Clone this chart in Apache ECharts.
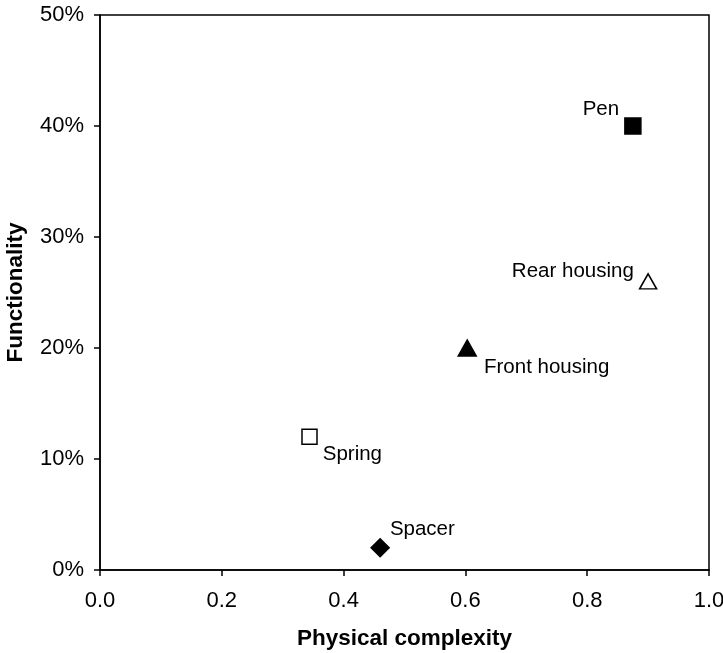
<!DOCTYPE html>
<html>
<head>
<meta charset="utf-8">
<script src="https://cdn.jsdelivr.net/npm/echarts@6/dist/echarts.min.js"></script>
<style>
  html, body { margin: 0; padding: 0; background: #fff; }
  #chart { width: 723px; height: 653px; }
</style>
</head>
<body>
<div id="chart"></div>
<script>
// Parts of the pen assembly
const parts = ['Pen', 'Rear housing', 'Front housing', 'Spring', 'Spacer'];
// Physical complexity (0..1)
const complexity = [0.875, 0.90, 0.603, 0.344, 0.46];
// Functionality (%)
const functionality = [40, 26, 20, 12, 2];

// Marker look for each part
const markerStyles = [
  { symbol: 'rect', size: 16, fill: '#000' },
  { symbol: 'triangle', size: [17, 15], fill: '#fff' },
  { symbol: 'triangle', size: [18, 16], fill: '#000' },
  { symbol: 'rect', size: 15, fill: '#fff' },
  { symbol: 'diamond', size: [18, 18], fill: '#000' }
];
// Label placement around each marker
const labelPlacement = [
  { position: 'left', offset: [0, -17] },
  { position: 'left', offset: [0, -10] },
  { position: 'right', offset: [2, 19] },
  { position: 'right', offset: [0, 18] },
  { position: 'right', offset: [-5, -18] }
];

const points = parts.map((name, i) => ({
  name: name,
  value: [complexity[i], functionality[i]],
  symbol: markerStyles[i].symbol,
  symbolSize: markerStyles[i].size,
  itemStyle: {
    color: markerStyles[i].fill,
    borderColor: '#000',
    borderWidth: 1.5,
    opacity: 1
  },
  label: {
    show: true,
    formatter: name,
    position: labelPlacement[i].position,
    offset: labelPlacement[i].offset
  }
}));

const font = 'Arial, "Liberation Sans", Helvetica, sans-serif';

const chart = echarts.init(document.getElementById('chart'), null, { renderer: 'canvas' });
chart.setOption({
  animation: false,
  backgroundColor: '#fff',
  grid: {
    left: 100, right: 14, top: 15, bottom: 83,
    outerBoundsMode: 'none',
    containLabel: false,
    show: true, borderColor: '#000', borderWidth: 1.5
  },
  xAxis: {
    type: 'value', min: 0, max: 1, interval: 0.2,
    name: 'Physical complexity',
    nameLocation: 'middle', nameGap: 57,
    nameTextStyle: { fontFamily: font, fontWeight: 'bold', fontSize: 22.5, color: '#000' },
    axisLine: { lineStyle: { color: '#000', width: 1.5 } },
    axisTick: { show: true, inside: false, length: 6, lineStyle: { color: '#000', width: 1.5 } },
    axisLabel: {
      fontFamily: font, fontSize: 22, color: '#000', margin: 20,
      formatter: v => v.toFixed(1)
    },
    splitLine: { show: false }
  },
  yAxis: {
    type: 'value', min: 0, max: 50, interval: 10,
    name: 'Functionality',
    nameLocation: 'middle', nameGap: 73,
    nameTextStyle: { fontFamily: font, fontWeight: 'bold', fontSize: 22.5, color: '#000' },
    axisLine: { show: true, lineStyle: { color: '#000', width: 1.5 } },
    axisTick: { show: true, inside: false, length: 6, lineStyle: { color: '#000', width: 1.5 } },
    axisLabel: {
      fontFamily: font, fontSize: 22, color: '#000', margin: 16,
      formatter: '{value}%'
    },
    splitLine: { show: false }
  },
  series: [{
    type: 'scatter',
    data: points,
    itemStyle: { opacity: 1 },
    label: {
      fontFamily: font, fontSize: 20.5, color: '#000', distance: 5
    }
  }]
});
</script>
</body>
</html>
